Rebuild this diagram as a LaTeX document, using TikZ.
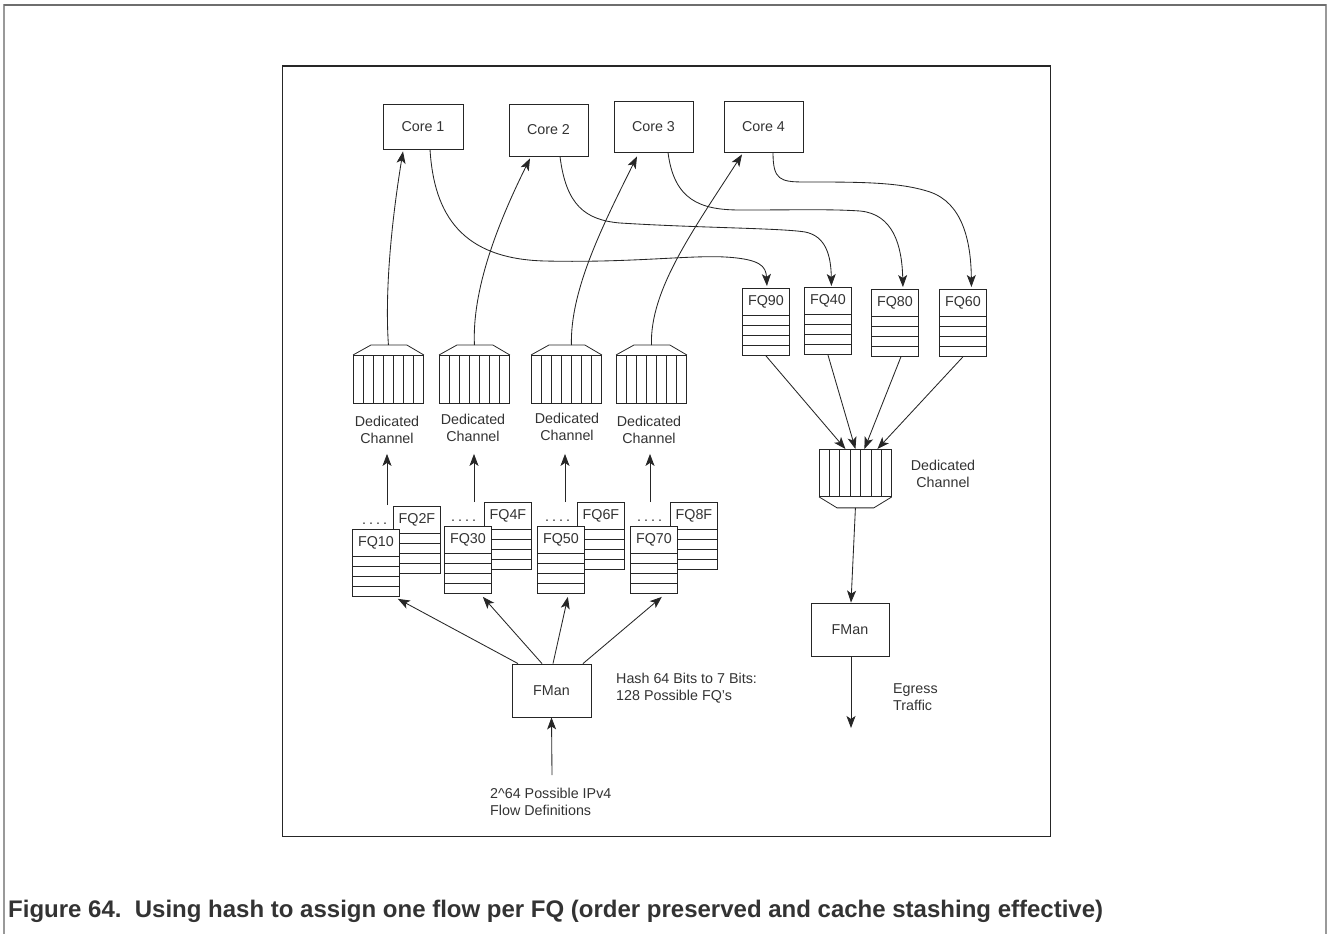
\documentclass[tikz,border=0pt]{standalone}
\usepackage{fontspec}
\setmainfont{Liberation Sans}
\usetikzlibrary{arrows.meta,calc}
\definecolor{ink}{HTML}{262626}
\definecolor{txt}{HTML}{333333}
\definecolor{framegray}{HTML}{999999}
\definecolor{framedark}{HTML}{6E6E6E}
\tikzset{
  box/.style={draw=ink, line width=0.85pt, fill=white, inner sep=0pt, text=txt, font=\fontsize{14.3}{17}\selectfont},
  fqbox/.style={draw=ink, line width=0.85pt, fill=white, minimum width=47pt, minimum height=67pt, inner sep=0pt, anchor=north west},
  chanbox/.style={draw=ink, line width=0.85pt, inner sep=0pt, anchor=north west},
  thin/.style={draw=ink, line width=0.8pt},
  lbl/.style={inner sep=0pt, text=txt, font=\fontsize{14.3}{17}\selectfont},
  conn/.style={draw=ink, line width=0.85pt},
  arr/.style={conn, -{Stealth[length=12pt,width=9pt,inset=3pt]}},
}
\newcommand\fqstack[4]{% name, left x, top y, label
  \node[fqbox] (#1) at (#2,#3) {};
  \node[lbl] (#1t) at ([yshift=-13.5pt]#1.north) {#4};
  \foreach \k in {27,37,47,57}{\draw[thin] ([yshift=-\k pt]#1.north west) -- ([yshift=-\k pt]#1.north east);}
}
\newcommand\chanup[3]{% name, left x, top y
  \node[chanbox, minimum width=70pt, minimum height=48pt] (#1) at (#2,#3) {};
  \foreach \k in {1,...,6}{\draw[thin] ($(#1.north west)!\k/7!(#1.north east)$) -- ($(#1.south west)!\k/7!(#1.south east)$);}
  \draw[thin] (#1.north west) -- ([xshift=18pt,yshift=10pt]#1.north west) -- ([xshift=-17pt,yshift=10pt]#1.north east) -- (#1.north east);
}
\newcommand\chandown[3]{% name, left x, top y
  \node[chanbox, minimum width=72pt, minimum height=47pt] (#1) at (#2,#3) {};
  \foreach \k in {1,...,6}{\draw[thin] ($(#1.north west)!\k/7!(#1.north east)$) -- ($(#1.south west)!\k/7!(#1.south east)$);}
  \draw[thin] (#1.south west) -- ([xshift=18pt,yshift=-11pt]#1.south west) -- ([xshift=-18pt,yshift=-11pt]#1.south east) -- (#1.south east);
}
\begin{document}
\begin{tikzpicture}[x=1pt,y=-1pt]
\useasboundingbox (0,0) rectangle (1328,934);
% frames
\draw[framegray, line width=1.6pt] (4,934) -- (4,5) -- (1326,5) -- (1326,934);
\draw[framedark, line width=2pt] (4,5) -- (1326,5);
\draw[ink, line width=1pt] (282,66) rectangle (1050,836);
\draw[ink, line width=2pt] (282,66) -- (1050,66);

% cores
\node[box, minimum width=80pt, minimum height=45pt] (c1) at (423,126.5) {Core 1};
\node[box, minimum width=79pt, minimum height=52pt] (c2) at (548.5,130) {Core 2};
\node[box, minimum width=79pt, minimum height=51pt] (c3) at (653.5,126.5) {Core 3};
\node[box, minimum width=79pt, minimum height=51pt] (c4) at (763.5,126.5) {Core 4};

% left channels
\chanup{ch1}{353}{355}
\chanup{ch2}{439}{355}
\chanup{ch3}{531}{355}
\chanup{ch4}{616}{355}
\node[lbl, align=center, anchor=north] (dl1) at (387,416) {Dedicated\\Channel};
\node[lbl, align=center, anchor=north] (dl2) at (473,414) {Dedicated\\Channel};
\node[lbl, align=center, anchor=north] (dl3) at (567,413) {Dedicated\\Channel};
\node[lbl, align=center, anchor=north] (dl4) at (649,416) {Dedicated\\Channel};

% left FQ stacks
\fqstack{fq2f}{393}{506}{FQ2F}
\fqstack{fq10}{352}{529}{FQ10}
\fqstack{fq4f}{484}{502}{FQ4F}
\fqstack{fq30}{444}{526}{FQ30}
\fqstack{fq6f}{577}{502}{FQ6F}
\fqstack{fq50}{537}{526}{FQ50}
\fqstack{fq8f}{670}{502}{FQ8F}
\fqstack{fq70}{630}{526}{FQ70}
\node[lbl, anchor=base west] (d1) at (362,524) {.\kern3pt.\kern3pt.\kern3pt.};
\node[lbl, anchor=base west] (d2) at (451,521) {.\kern3pt.\kern3pt.\kern3pt.};
\node[lbl, anchor=base west] (d3) at (545,521) {.\kern3pt.\kern3pt.\kern3pt.};
\node[lbl, anchor=base west] (d4) at (637,521) {.\kern3pt.\kern3pt.\kern3pt.};

% left FMan
\node[box, minimum width=79pt, minimum height=53pt] (fmL) at (551.5,690.5) {FMan};
\node[lbl, align=left, anchor=north west] (hash) at (616,673) {Hash 64 Bits to 7 Bits:\\128 Possible FQ's};
\node[lbl, align=left, anchor=north west] (flows) at (490,788) {2\^{}64 Possible IPv4\\Flow Definitions};
\coordinate (in) at (552,775);

% right FQs
\fqstack{fq90}{742}{288}{FQ90}
\fqstack{fq40}{804}{287}{FQ40}
\fqstack{fq80}{871}{289}{FQ80}
\fqstack{fq60}{939}{289}{FQ60}

% right channel
\chandown{chR}{819}{449}
\node[lbl, align=center, anchor=north] (dlR) at (943,460) {Dedicated\\Channel};
\node[box, minimum width=78pt, minimum height=53pt] (fmR) at (850,629.5) {FMan};
\node[lbl, align=left, anchor=north west] (egr) at (893,683) {Egress\\Traffic};
\coordinate (out) at (851,728);

% stack -> channel label arrows
\coordinate (s1) at (387,505);
\coordinate (s2) at (474,502);
\coordinate (s3) at (565,502);
\coordinate (s4) at (650,502);
\draw[arr] (s1) -- ($(dl1.south -| s1)+(0,10)$);
\draw[arr] (s2) -- ($(dl2.south -| s2)+(0,12)$);
\draw[arr] (s3) -- ($(dl3.south -| s3)+(0,13)$);
\draw[arr] (s4) -- ($(dl4.south -| s4)+(0,10)$);

% channel -> core arrows
\draw[arr] ([yshift=10pt]ch1.north) .. controls (384,280) and (395,200) .. ([xshift=-20pt,yshift=-2pt]c1.south);
\draw[arr] ([yshift=10pt]ch2.north) .. controls (472,290) and (497,225) .. ([xshift=-18.5pt,yshift=-2pt]c2.south);
\draw[arr] ([xshift=5pt,yshift=10pt]ch3.north) .. controls (570,290) and (603,225) .. ([xshift=-16.5pt,yshift=-4pt]c3.south);
\draw[arr] ([yshift=10pt]ch4.north) .. controls (650,290) and (692,232) .. ([xshift=-21.5pt,yshift=-2pt]c4.south);

% core -> FQ arrows
\draw[arr] ([xshift=7pt]c1.south) .. controls (434,215) and (462,259) .. (545,261)
   .. controls (630,263) and (690,255) .. (725,257)
   .. controls (760,259) and (766,266) .. ([xshift=1pt,yshift=2pt]fq90.north);
\draw[arr] ([xshift=11.5pt]c2.south) .. controls (566,205) and (585,220) .. (620,223)
   .. controls (700,228) and (780,228) .. (805,232)
   .. controls (826,236) and (831,256) .. ([xshift=3.5pt,yshift=1pt]fq40.north);
\draw[arr] ([xshift=14.5pt]c3.south) .. controls (674,200) and (700,210) .. (740,210)
   .. controls (800,210) and (830,209) .. (860,211)
   .. controls (893,214) and (902,245) .. ([xshift=8pt,yshift=2pt]fq80.north);
\draw[arr] ([xshift=9.5pt]c4.south) .. controls (773,180) and (780,182) .. (805,182)
   .. controls (860,182) and (900,182) .. (930,192)
   .. controls (962,203) and (971,240) .. ([xshift=8.5pt,yshift=2pt]fq60.north);

% right FQ -> channel
\draw[arr] (fq90.south) -- ([xshift=-10pt]chR.north);
\draw[arr] (fq40.south) -- (chR.north);
\draw[arr] ([xshift=6pt]fq80.south) -- ([xshift=9pt]chR.north);
\draw[arr] (fq60.south) -- ([xshift=22pt]chR.north);

% channel -> FMan -> egress
\draw[arr] ([yshift=-11pt]chR.south) -- ([xshift=1pt]fmR.north);
\draw[arr] ([xshift=1pt]fmR.south) -- (out);

% FMan -> FQ stacks
\draw[arr] ([xshift=-33.5pt]fmL.north) -- ([xshift=-2pt,yshift=-2pt]fq10.south east);
\draw[arr] ([xshift=-9.5pt]fmL.north) -- ([xshift=-9pt,yshift=-3pt]fq30.south east);
\draw[arr] ([xshift=1.5pt]fmL.north) -- ([xshift=-17pt,yshift=-3pt]fq50.south east);
\draw[arr] ([xshift=31.5pt]fmL.north) -- ([xshift=-16pt,yshift=-3pt]fq70.south east);
\draw[arr] (in) -- (fmL.south);

% caption
\node[anchor=base west, inner sep=0pt, text=txt, font=\fontsize{24}{28}\selectfont\bfseries] (cap) at (8,917)
  {Figure 64.\ \ Using hash to assign one flow per FQ (order preserved and cache stashing effective)};
\end{tikzpicture}
\end{document}
